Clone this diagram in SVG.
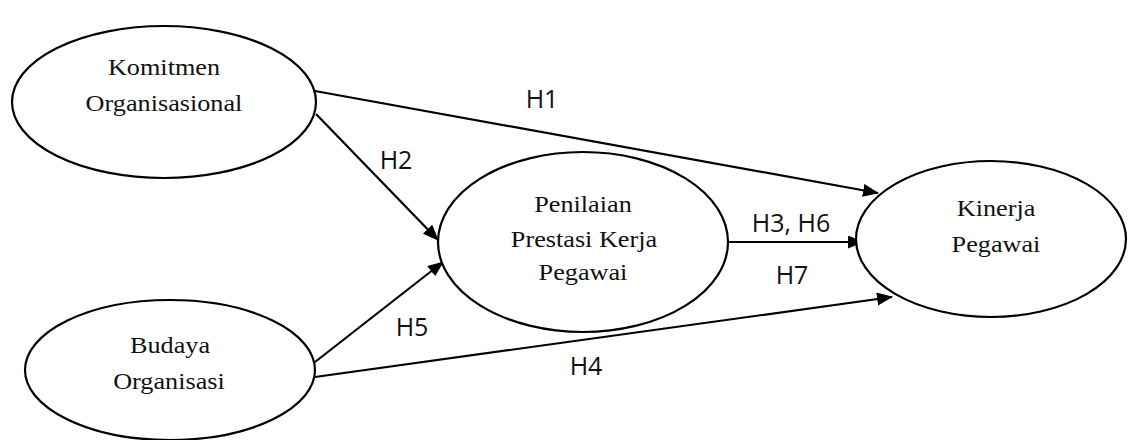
<svg xmlns="http://www.w3.org/2000/svg" width="1130" height="440" viewBox="0 0 1130 440">
<defs>
<marker id="arr" markerUnits="userSpaceOnUse" markerWidth="18" markerHeight="14" refX="15" refY="6.5" orient="auto">
<path d="M0,0 L16,6.5 L0,13 z" fill="#000"/>
</marker>
</defs>
<style>
.node ellipse{fill:#fff;stroke:#000;stroke-width:2.2}
.node text{font-family:"Liberation Serif","Times New Roman",serif;font-size:23px;fill:#111;text-anchor:middle}
.edge line{stroke:#000;stroke-width:2.2;marker-end:url(#arr)}
.lbl{font-family:"Open Sans","Liberation Sans",sans-serif;font-size:25px;fill:#111;text-anchor:middle}
</style>
<rect width="1130" height="440" fill="#fff"/>
<g id="connectors" class="edge">
<line x1="315" y1="91" x2="878" y2="193"/>
<line x1="316" y1="114" x2="438" y2="240"/>
<line x1="315" y1="362" x2="443" y2="262"/>
<line x1="728" y1="242" x2="863" y2="242"/>
<line x1="315" y1="377" x2="892" y2="297"/>
</g>
<g id="labels">
<text class="lbl" x="542" y="108">H1</text>
<text class="lbl" x="396" y="169">H2</text>
<text class="lbl" x="791" y="232">H3, H6</text>
<text class="lbl" x="792" y="284">H7</text>
<text class="lbl" x="412" y="336">H5</text>
<text class="lbl" x="586" y="375">H4</text>
</g>
<g id="komitmen" class="node">
<ellipse cx="164" cy="102" rx="152" ry="76"/>
<text transform="translate(164 75) scale(1.14 1)">Komitmen</text>
<text transform="translate(164 111) scale(1.14 1)">Organisasional</text>
</g>
<g id="budaya" class="node">
<ellipse cx="170" cy="370" rx="145" ry="70"/>
<text transform="translate(170 353) scale(1.14 1)">Budaya</text>
<text transform="translate(169 389) scale(1.14 1)">Organisasi</text>
</g>
<g id="penilaian" class="node">
<ellipse cx="583" cy="242" rx="145" ry="90"/>
<text transform="translate(583 212) scale(1.14 1)">Penilaian</text>
<text transform="translate(584 247) scale(1.14 1)">Prestasi Kerja</text>
<text transform="translate(583 280) scale(1.14 1)">Pegawai</text>
</g>
<g id="kinerja" class="node">
<ellipse cx="991" cy="239" rx="135" ry="78"/>
<text transform="translate(996 216) scale(1.14 1)">Kinerja</text>
<text transform="translate(996 252) scale(1.14 1)">Pegawai</text>
</g>
</svg>
